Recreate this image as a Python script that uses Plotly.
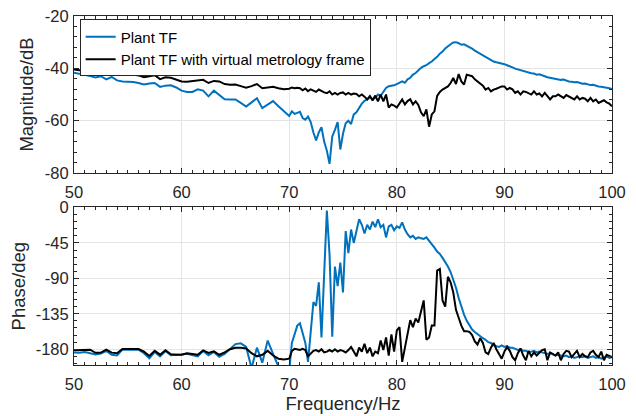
import numpy as np
import plotly.graph_objects as go

# ---------------- data ----------------
# frequency grid: 50..70 Hz every 0.5 Hz, then 70.25..100 Hz every 0.25 Hz
freq_low = 50 + 0.5 * np.arange(41)
freq_high = 70.25 + 0.25 * np.arange(120)

mag_plant_low = [
    -41.7, -42.0, -42.5, -42.9,
    -43.5, -43.0, -44.2, -43.3,
    -44.6, -45.0, -45.0, -45.2,
    -45.6, -46.2, -45.8, -45.6,
    -47.1, -46.6, -46.5, -47.3,
    -48.5, -49.0, -49.0, -48.0,
    -48.5, -50.7, -48.5, -50.0,
    -51.8, -51.9, -51.9, -53.2,
    -54.6, -53.0, -51.4, -55.2,
    -54.0, -52.5, -54.5, -56.5,
    -58.2,
]
mag_plant_high = [
    -56.4, -57.4, -57.0, -56.6, -59.0, -59.6, -58.4, -60.5,
    -64.5, -67.5, -64.5, -62.5, -68.0, -71.5, -76.5, -66.0,
    -63.5, -60.5, -71.0, -65.0, -61.0, -60.0, -61.3, -57.6,
    -56.8, -55.0, -53.5, -52.4, -51.9, -51.0, -51.8, -51.2,
    -50.0, -50.5, -49.2, -47.5, -46.8, -46.6, -46.5, -46.0,
    -45.6, -45.0, -45.5, -44.2, -43.6, -42.4, -41.8, -40.8,
    -39.8, -39.2, -38.8, -38.0, -37.4, -36.4, -35.6, -34.4,
    -33.6, -32.4, -31.5, -30.8, -30.1, -30.0, -30.4, -31.0,
    -30.8, -31.3, -31.8, -32.5, -33.2, -33.8, -34.6, -35.2,
    -35.8, -36.5, -36.9, -37.4, -37.7, -37.9, -38.3, -38.4,
    -38.8, -39.1, -39.6, -40.1, -40.4, -40.9, -41.2, -41.4,
    -41.7, -41.9, -42.0, -42.4, -42.3, -42.8, -43.0, -43.4,
    -43.6, -43.7, -43.9, -44.0, -44.4, -44.3, -44.8, -45.0,
    -45.1, -45.3, -45.2, -45.6, -45.9, -45.8, -46.2, -46.4,
    -46.3, -46.7, -46.9, -47.0, -47.3, -47.4, -47.6, -47.9,
]

mag_vmf_low = [
    -40.4, -40.8, -41.0, -41.3,
    -41.2, -40.8, -41.6, -41.0,
    -42.2, -42.4, -42.3, -42.4,
    -42.7, -43.4, -43.0, -42.6,
    -44.1, -43.4, -43.6, -44.2,
    -45.0, -45.1, -44.9, -44.8,
    -44.4, -45.6, -44.8, -45.0,
    -46.0, -46.3, -46.2, -46.8,
    -47.4, -46.8, -46.0, -47.6,
    -47.2, -47.0, -47.6, -48.0,
    -47.8,
]
mag_vmf_high = [
    -47.3, -47.6, -47.4, -47.6, -48.4, -47.7, -48.7, -48.0,
    -48.6, -49.0, -48.1, -48.7, -49.2, -49.5, -48.8, -50.0,
    -49.4, -50.0, -49.4, -49.2, -50.0, -49.4, -50.0, -49.6,
    -49.8, -50.7, -50.0, -50.8, -51.9, -50.6, -52.3, -50.4,
    -52.6, -50.0, -52.6, -50.0, -55.0, -53.8, -54.2, -55.0,
    -53.4, -51.9, -53.8, -52.5, -51.8, -53.8, -52.6, -54.0,
    -56.8, -58.3, -55.7, -62.3, -57.6, -56.4, -50.5, -49.0,
    -48.1, -47.6, -46.9, -45.6, -43.7, -46.0, -42.2, -45.0,
    -46.2, -42.4, -42.6, -43.0, -44.2, -45.0, -45.6, -46.6,
    -48.1, -47.5, -48.8, -48.1, -47.8, -47.5, -46.9, -46.9,
    -48.1, -47.5, -48.0, -49.4, -48.8, -50.0, -48.8, -49.0,
    -49.4, -50.0, -48.8, -50.0, -49.6, -50.7, -49.4, -50.7,
    -51.9, -50.7, -50.7, -50.0, -50.7, -51.3, -50.2, -50.7,
    -51.3, -51.9, -50.7, -51.9, -51.3, -51.6, -52.6, -51.3,
    -52.6, -51.9, -53.2, -52.6, -52.2, -53.0, -53.5, -54.5,
]

phase_plant_low = [
    -184.0, -184.5, -183.5, -184.8,
    -186.5, -185.5, -182.0, -187.0,
    -188.0, -180.5, -180.5, -180.3,
    -180.5, -185.0, -191.5, -183.5,
    -189.0, -182.2, -187.5, -187.0,
    -186.8, -185.6, -187.5, -189.0,
    -182.2, -187.7, -183.5, -189.5,
    -186.0, -180.0, -173.5, -172.5,
    -177.0, -204.0, -178.0, -197.0,
    -169.0, -186.0, -202.0, -210.0,
    -208.0,
]
phase_plant_high = [
    -172, -160, -150, -147, -158, -172, -196, -160,
    -120, -125, -95, -165, -80, -4, -60, -164,
    -75, -100, -70, -108, -30, -58, -28, -45,
    -30, -15, -22, -33, -22, -28, -18, -25,
    -15, -25, -22, -38, -24, -22, -29, -24,
    -26, -19, -28, -34, -38, -36, -40, -38,
    -39, -40, -38, -42, -46, -51, -56, -59,
    -64, -69, -75, -82, -92, -102, -115, -126,
    -136, -144, -150, -155, -158, -161, -163, -166,
    -168, -171, -172, -175, -176, -177, -175, -177,
    -176, -178, -178, -179, -181, -180, -182, -182,
    -184, -183, -182, -184, -183, -184, -185, -186,
    -185, -187, -188, -187, -188, -189, -188, -190,
    -189, -191, -190, -189, -190, -189, -191, -190,
    -189, -191, -190, -192, -190, -189, -191, -190,
]

phase_vmf_low = [
    -181.4, -181.4, -181.0, -180.5,
    -184.5, -184.3, -180.5, -184.3,
    -185.0, -179.7, -179.7, -179.7,
    -179.7, -183.0, -188.5, -182.0,
    -186.9, -181.4, -186.5, -186.9,
    -186.9, -185.0, -186.0, -186.9,
    -181.4, -184.7, -182.6, -187.0,
    -184.0, -180.0, -178.0, -178.0,
    -179.0, -185.0, -189.0, -187.0,
    -182.0, -188.0, -192.0, -193.0,
    -192.0,
]
phase_vmf_high = [
    -182, -179.5, -180, -181, -179.5, -181, -189, -185,
    -182, -181, -183, -180, -184, -183, -181, -183,
    -180, -183, -181, -182, -184, -181, -177, -183,
    -189, -178, -183, -173, -185, -178, -189, -183,
    -185, -169, -181, -165, -188, -161, -183, -156,
    -152, -196, -178, -156, -143, -152, -141, -146,
    -131, -118, -168, -165, -150, -150, -80, -78,
    -118, -126, -88, -95, -108, -130, -140, -150,
    -157, -157, -158, -162, -170, -174, -166, -172,
    -184, -186, -178, -172, -180, -186, -192, -183,
    -177, -182, -190, -194, -185, -179, -188, -194,
    -182, -189, -184, -188, -185, -181, -180, -194,
    -184, -186, -188, -184, -194, -186, -182, -183,
    -190, -186, -182, -190, -186, -189, -190, -184,
    -182, -187, -190, -183, -194, -187, -189, -190,
]

series_names = ["Plant TF", "Plant TF with virtual metrology frame"]
x_ticks = [50, 60, 70, 80, 90, 100]
x_ticktext = ["50", "60", "70", "80", "90", "100"]
mag_ticks = [-80, -60, -40, -20]
mag_ticktext = ["-80", "-60", "-40", "-20"]
phase_ticks = [-180, -135, -90, -45, 0]
phase_ticktext = ["-180", "-135", "-90", "-45", "0"]

# ---------------- figure ----------------
freq = np.concatenate([freq_low, freq_high])
mag_plant = mag_plant_low + mag_plant_high
mag_vmf = mag_vmf_low + mag_vmf_high
phase_plant = phase_plant_low + phase_plant_high
phase_vmf = phase_vmf_low + phase_vmf_high

BLUE = "#0072BD"
BLACK = "#000000"
AX = "#262626"
FONT = "Liberation Sans, Arial, sans-serif"

fig = go.Figure()
fig.add_trace(go.Scatter(x=freq, y=mag_plant, mode="lines", name=series_names[0],
                         line=dict(color=BLUE, width=2), xaxis="x", yaxis="y"))
fig.add_trace(go.Scatter(x=freq, y=mag_vmf, mode="lines", name=series_names[1],
                         line=dict(color=BLACK, width=2), xaxis="x", yaxis="y"))
fig.add_trace(go.Scatter(x=freq, y=phase_plant, mode="lines", showlegend=False,
                         line=dict(color=BLUE, width=2), xaxis="x2", yaxis="y2"))
fig.add_trace(go.Scatter(x=freq, y=phase_vmf, mode="lines", showlegend=False,
                         line=dict(color=BLACK, width=2), xaxis="x2", yaxis="y2"))

common = dict(
    showline=True, linecolor=AX, linewidth=1, mirror="allticks",
    ticks="inside", ticklen=5, tickcolor=AX, tickwidth=1,
    showgrid=True, gridcolor="#e4e4e4", gridwidth=1, zeroline=False,
    tickfont=dict(size=16.5, color=AX, family=FONT),
    automargin=False, ticklabeloverflow="allow",
)
xcommon = dict(common, ticklabelstandoff=4)
ycommon = dict(common, ticklabelstandoff=1)
title_font = dict(size=18.5, color=AX, family=FONT)

# the page places the figure 8 px from its top-left corner
fig.update_layout(
    width=628, height=408,
    margin=dict(l=66, r=24, t=8, b=51),
    paper_bgcolor="white", plot_bgcolor="white",
    font=dict(family=FONT, color=AX),
    showlegend=True,
    legend=dict(x=0.0105, y=0.99, xanchor="left", yanchor="top",
                bgcolor="white", bordercolor=AX, borderwidth=1,
                font=dict(size=15, color="#000000", family=FONT),
                tracegroupgap=0, itemwidth=30),
    xaxis=dict(xcommon, domain=[0, 1], anchor="y", range=[50, 100],
               tickvals=x_ticks, ticktext=x_ticktext,
               minor=dict(ticks="inside", ticklen=3, tickcolor=AX, dtick=1, tick0=50, showgrid=False)),
    yaxis=dict(ycommon, domain=[0.55, 1], anchor="x", range=[-80, -20],
               tickvals=mag_ticks, ticktext=mag_ticktext,
               minor=dict(ticks="inside", ticklen=3, tickcolor=AX, dtick=4, tick0=-80, showgrid=False),
               title=dict(text="Magnitude/dB", font=title_font, standoff=6)),
    xaxis2=dict(xcommon, domain=[0, 1], anchor="y2", range=[50, 100],
                tickvals=x_ticks, ticktext=x_ticktext,
                minor=dict(ticks="inside", ticklen=3, tickcolor=AX, dtick=1, tick0=50, showgrid=False),
                title=dict(text="Frequency/Hz", font=title_font, standoff=3)),
    yaxis2=dict(ycommon, domain=[0, 0.4514], anchor="x2", range=[-200, 0],
                tickvals=phase_ticks, ticktext=phase_ticktext,
                minor=dict(ticks="inside", ticklen=3, tickcolor=AX, dtick=9, tick0=0, showgrid=False),
                title=dict(text="Phase/deg", font=title_font, standoff=6)),
)

fig.write_html("out.html")
